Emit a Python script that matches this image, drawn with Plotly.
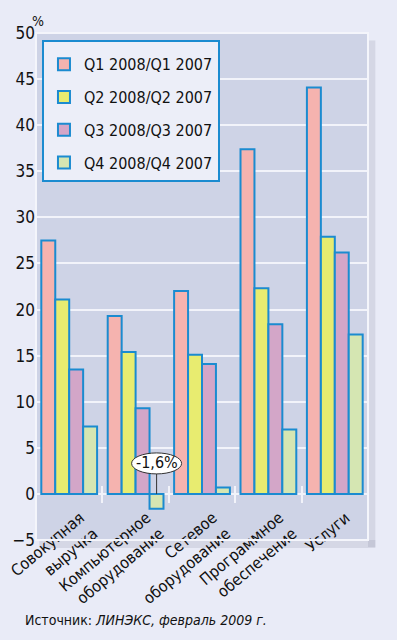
import plotly.graph_objects as go

categories = ["Совокупная<br>выручка", "Компьютерное<br>оборудование", "Сетевое<br>оборудование",
              "Программное<br>обеспечение", "Услуги"]
series_names = ["Q1 2008/Q1 2007", "Q2 2008/Q2 2007", "Q3 2008/Q3 2007", "Q4 2008/Q4 2007"]
q1 = [27.5, 19.3, 22.0, 37.4, 44.1]
q2 = [21.1, 15.4, 15.1, 22.3, 27.9]
q3 = [13.5, 9.3, 14.1, 18.4, 26.2]
q4 = [7.3, -1.6, 0.7, 7.0, 17.3]
y_ticks = [-5, 0, 5, 10, 15, 20, 25, 30, 35, 40, 45, 50]
callout_text = "-1,6%"
source_text = "Источник: <i>ЛИНЭКС, февраль 2009 г.</i>"

colors = ["#F5B3AF", "#E8EC70", "#D3A6C8", "#D5E6B2"]
outline = "#1B8BD0"
PAPER = "#E9EBF7"
FONT = "DejaVu Sans Condensed, sans-serif"

def f(size):
    return dict(family=FONT, size=size, color="#111111")

fig = go.Figure()
for i, (name, vals) in enumerate(zip(series_names, [q1, q2, q3, q4])):
    fig.add_trace(go.Bar(
        x=categories, y=vals, name=name, legendgroup=name,
        marker=dict(color=colors[i], line=dict(color=outline, width=2)),
        hoverinfo="skip",
    ))

fig.add_trace(go.Scatter(x=[], y=[], xaxis="x2", yaxis="y", showlegend=False))
fig.add_trace(go.Scatter(x=[], y=[], xaxis="x3", yaxis="y", showlegend=False))

ymin, ymax = y_ticks[0], y_ticks[-1]
zero_pos = (0 - ymin) / (ymax - ymin)
n = len(categories)
bounds = [i + 0.5 for i in range(n - 1)]

fig.update_layout(
    width=397, height=640,
    margin=dict(l=36, r=29, t=33, b=100),
    paper_bgcolor=PAPER,
    plot_bgcolor="#CED3E6",
    barmode="group", bargap=0.16, bargroupgap=0,
    font=f(16),
    showlegend=True,
    legend=dict(
        x=0.018, y=0.986, xanchor="left", yanchor="top",
        bgcolor="#ECEEF8", bordercolor=outline, borderwidth=2,
        font=f(16), tracegroupgap=9, traceorder="grouped",
        title=dict(text=" ", font=dict(family=FONT, size=4)),
    ),
    yaxis=dict(
        range=[ymin, ymax], tickvals=y_ticks, showgrid=True, automargin=False,
        gridcolor="#F2F3FA", gridwidth=1.5, zeroline=True, zerolinecolor="#F2F3FA",
        zerolinewidth=1.5, ticks="", showline=False, tickfont=f(17),
    ),
    xaxis=dict(
        anchor="free", position=0.07, showgrid=False, ticks="", showline=False,
        automargin=False, tickangle=-40, ticklabelshift=11, tickfont=f(16),
    ),
    xaxis2=dict(overlaying="x", anchor="free", position=zero_pos, range=[-0.5, n - 0.5],
                tickvals=bounds, ticks="outside", ticklen=8, tickwidth=1.5, automargin=False,
                tickcolor="#F2F3FA", showticklabels=False, showgrid=False,
                showline=False, zeroline=False),
    xaxis3=dict(overlaying="x", anchor="free", position=zero_pos, range=[-0.5, n - 0.5],
                tickvals=bounds, ticks="inside", ticklen=8, tickwidth=1.5, automargin=False,
                tickcolor="#F2F3FA", showticklabels=False, showgrid=False,
                showline=False, zeroline=False),
)

fig.add_shape(type="rect", xref="paper", yref="paper", x0=1.0, x1=1.022, y0=-0.014, y1=0.985,
              line=dict(width=0), fillcolor="rgba(140,146,170,0.22)", layer="below")
fig.add_shape(type="rect", xref="paper", yref="paper", x0=0.01, x1=1.022, y0=-0.016, y1=0.0,
              line=dict(width=0), fillcolor="rgba(140,146,170,0.22)", layer="below")
fig.add_shape(type="rect", xref="paper", yref="paper", x0=0, x1=1, y0=0, y1=1,
              line=dict(color="#F4F5FB", width=2), fillcolor="rgba(0,0,0,0)", layer="above")

neg_idx = q4.index(min(q4))
fig.add_shape(type="circle", xref="x", yref="y", xsizemode="pixel", ysizemode="pixel",
              xanchor=categories[neg_idx], yanchor=0,
              x0=-4, x1=46, y0=20, y1=41,
              line=dict(color="#333333", width=1), fillcolor="white", layer="above")
fig.add_annotation(x=categories[neg_idx], y=0, xref="x", yref="y", xshift=21,
                   text=callout_text, showarrow=True, arrowhead=0, arrowwidth=1,
                   arrowcolor="#333333", ax=0, ay=-31, standoff=0, font=f(16))

fig.add_annotation(x=-0.016, y=1.006, xref="paper", yref="paper", xanchor="left", yanchor="bottom",
                   text="%", showarrow=False, font=f(14), borderpad=0)
fig.add_annotation(x=-0.039, y=-0.158, xref="paper", yref="paper", xanchor="left", yanchor="middle",
                   text=source_text, showarrow=False, font=f(14))

fig.write_html("out.html", config={"displayModeBar": False},
               post_script="document.body.style.margin='0';document.body.style.background='%s';" % PAPER)
